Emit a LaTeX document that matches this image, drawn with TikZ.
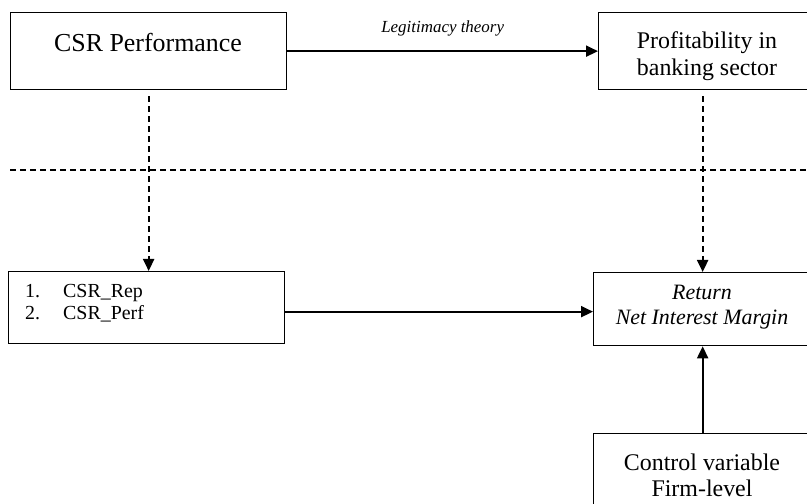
\documentclass[tikz,border=0pt]{standalone}
\usepackage{fontspec}
\setmainfont{Liberation Serif}
\usepackage{tikz}
\usetikzlibrary{arrows.meta}

\begin{document}
\begin{tikzpicture}[x=1bp,y=-1bp,
  box/.style={draw=black,line width=1.3bp,rectangle,anchor=north west,inner sep=0pt},
  arr/.style={line width=2bp,-{Triangle[length=12bp,width=11bp]}},
  dasharr/.style={arr,dash pattern=on 6bp off 4bp},
  txt/.style={inner sep=0pt,align=center}]
\clip (0,0) rectangle (807,504);
% boxes
\node [box,minimum width=276bp,minimum height=77bp] (csr) at (10,12) {};
\node [txt,font=\fontsize{26}{30}\selectfont] (csrtxt) at (148,43) {CSR Performance};
\node [box,minimum width=220bp,minimum height=77bp] (prof) at (598,12) {};
\node [txt,font=\fontsize{24}{27}\selectfont] (proftxt) at (707,56.5) {Profitability in\\banking sector};
\node [box,minimum width=276bp,minimum height=72bp] (rep) at (8,271) {};
\node [inner sep=0pt,anchor=west,font=\fontsize{20}{22}\selectfont] (reptxt) at (25,304)
  {\begin{tabular}{@{}p{38bp}@{}l@{}}1. & CSR\_Rep\\2. & CSR\_Perf\end{tabular}};
\node [box,minimum width=218bp,minimum height=73bp] (ret) at (593,272) {};
\node [txt,font=\fontsize{22}{25}\selectfont\itshape] (rettxt) at (702,307.5) {Return\\Net Interest Margin};
\node [box,minimum width=218bp,minimum height=90bp] (ctrl) at (593,433) {};
\node [txt,font=\fontsize{24}{26}\selectfont] (ctrltxt) at (702,475) {Control variable\\Firm-level};
% connectors
\draw [arr] (csr.east) -- (csr.east -| prof.west)
  node [midway,above=11bp,font=\fontsize{17}{20}\selectfont\itshape] (legit) {Legitimacy theory};
\draw [dasharr] ([yshift=-6bp]csr.south) -- (csr.south |- rep.north);
\draw [dasharr] ([yshift=-6bp]ret.north |- prof.south) -- (ret.north);
\coordinate (hl1) at (10,170);
\coordinate (hl2) at (807,170);
\draw [line width=1.3bp,dash pattern=on 6bp off 4bp] (hl1) -- (hl2);
\draw [arr] ([yshift=-4bp]rep.east) -- ([yshift=-4bp]rep.east -| ret.west);
\draw [arr] (ctrl.north) -- (ret.south);
\end{tikzpicture}
\end{document}
